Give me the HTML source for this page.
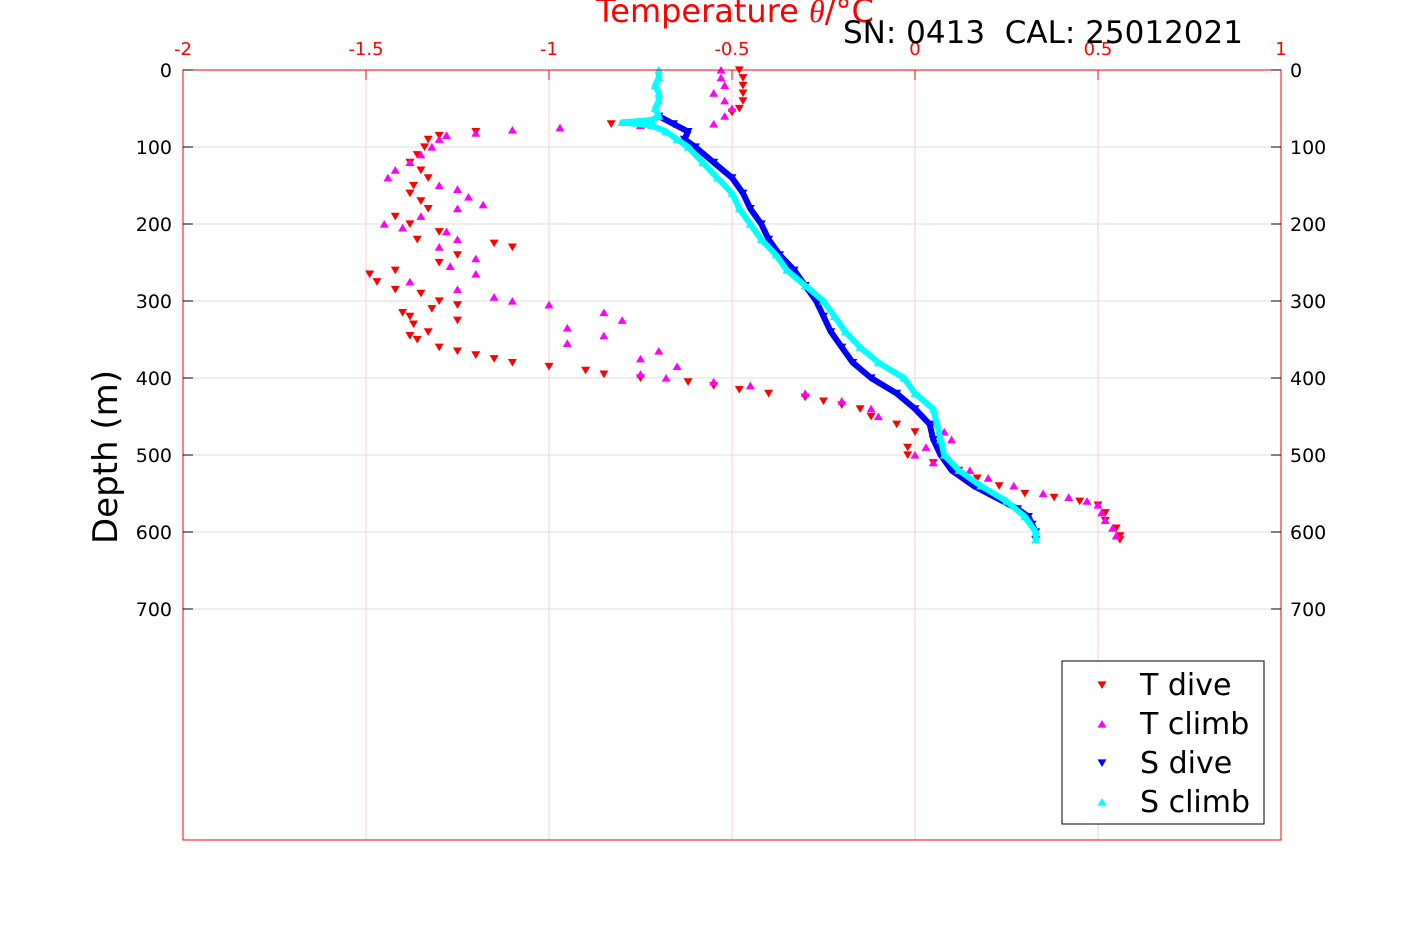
<!DOCTYPE html>
<html><head><meta charset="utf-8"><style>
html,body{margin:0;padding:0;background:#fff;}
svg{display:block;font-family:"DejaVu Sans","Liberation Sans",sans-serif;}
</style></head><body>
<svg id="chart" width="1417" height="945" viewBox="0 0 1417 945">
<rect x="0" y="0" width="1417" height="945" fill="#fff"/>
<g id="grid"></g>
<g id="series"></g>
<rect x="183" y="70" width="1098" height="770" fill="none" stroke="#ff0000" stroke-width="1"/>
<g id="axes"></g>
<text x="735" y="22" text-anchor="middle" font-size="32" fill="#ff0000">Temperature <tspan font-style="italic" font-family="Liberation Serif,serif">θ</tspan>/°C</text>
<text x="843" y="43" font-size="31" fill="#000" xml:space="preserve">SN: 0413  CAL: 25012021</text>
<text transform="translate(117,457) rotate(-90)" text-anchor="middle" font-size="34" fill="#000">Depth (m)</text>
<g>
<rect x="1062" y="661" width="202" height="163" fill="#fff" stroke="#000" stroke-width="1"/>
<g id="legend-items"></g>
</g>
</svg>
<script>
const xTicks=[-2,-1.5,-1,-0.5,0,0.5,1];
const xTickLabels=["-2","-1.5","-1","-0.5","0","0.5","1"];
const yTicks=[0,100,200,300,400,500,600,700];
const tDiveDepth=[0,10,20,30,40,50,55,70,80,85,90,100,110,120,130,140,150,160,170,180,190,200,210,220,225,230,240,250,260,265,275,285,290,300,305,310,315,320,325,330,340,345,350,360,365,370,375,380,385,390,395,400,405,410,415,420,425,430,435,440,450,460,470,480,490,500,510,520,530,540,550,555,560,565,575,585,595,605,610];
const tDiveTemp=[-0.48,-0.47,-0.47,-0.47,-0.47,-0.48,-0.5,-0.83,-1.2,-1.3,-1.33,-1.34,-1.36,-1.38,-1.35,-1.33,-1.37,-1.38,-1.35,-1.33,-1.42,-1.38,-1.3,-1.36,-1.15,-1.1,-1.25,-1.3,-1.42,-1.49,-1.47,-1.42,-1.35,-1.3,-1.25,-1.32,-1.4,-1.38,-1.25,-1.37,-1.33,-1.38,-1.36,-1.3,-1.25,-1.2,-1.15,-1.1,-1.0,-0.9,-0.85,-0.75,-0.62,-0.55,-0.48,-0.4,-0.3,-0.25,-0.2,-0.15,-0.12,-0.05,0.0,0.05,-0.02,-0.02,0.05,0.12,0.17,0.23,0.3,0.38,0.45,0.5,0.52,0.52,0.55,0.56,0.56];
const tClimbDepth=[0,10,20,30,40,50,60,70,72,75,78,82,85,90,100,110,120,130,140,150,155,165,175,180,190,200,205,210,220,230,245,255,265,275,285,295,300,305,315,325,335,345,355,365,375,385,395,400,405,410,420,430,440,450,460,470,480,490,500,510,520,530,540,550,555,560,565,575,585,595,605];
const tClimbTemp=[-0.53,-0.53,-0.52,-0.55,-0.52,-0.5,-0.52,-0.55,-0.75,-0.97,-1.1,-1.2,-1.28,-1.3,-1.32,-1.35,-1.38,-1.42,-1.44,-1.3,-1.25,-1.22,-1.18,-1.25,-1.35,-1.45,-1.4,-1.28,-1.25,-1.3,-1.2,-1.27,-1.2,-1.38,-1.25,-1.15,-1.1,-1.0,-0.85,-0.8,-0.95,-0.85,-0.95,-0.7,-0.75,-0.65,-0.75,-0.68,-0.55,-0.45,-0.3,-0.2,-0.12,-0.1,0.05,0.08,0.1,0.03,0.0,0.05,0.15,0.2,0.27,0.35,0.42,0.47,0.5,0.51,0.52,0.54,0.55];
const sDiveDepth=[60,70,80,90,100,120,140,160,180,200,220,240,260,280,300,320,340,360,380,400,420,440,460,480,500,520,540,560,570,580,590,600,610];
const sDiveTemp=[-0.7,-0.66,-0.62,-0.63,-0.6,-0.55,-0.5,-0.47,-0.45,-0.42,-0.4,-0.37,-0.33,-0.3,-0.27,-0.25,-0.23,-0.2,-0.17,-0.12,-0.05,0.0,0.04,0.05,0.07,0.1,0.16,0.24,0.28,0.31,0.32,0.33,0.33];
const sClimbDepth=[0,10,20,30,40,50,60,65,68,72,80,90,100,120,140,160,180,200,220,240,260,280,300,320,340,360,380,400,420,440,460,480,500,520,540,560,580,600,610];
const sClimbTemp=[-0.7,-0.7,-0.71,-0.7,-0.7,-0.71,-0.7,-0.72,-0.8,-0.72,-0.68,-0.65,-0.62,-0.58,-0.54,-0.5,-0.48,-0.45,-0.42,-0.38,-0.35,-0.3,-0.25,-0.22,-0.19,-0.15,-0.1,-0.03,0.0,0.05,0.06,0.07,0.08,0.12,0.18,0.25,0.3,0.33,0.33];
const seriesNames=["T dive","T climb","S dive","S climb"];
const seriesColors=["#ff0000","#ff00ff","#0000ff","#00ffff"];

const NS="http://www.w3.org/2000/svg";
const X0=183,X1=1281,Y0=70,Y1=840;
function xs(v){return X0+(v+2)/3*(X1-X0);}
function ys(d){return Y0+d/1000*(Y1-Y0);}
function mk(tag,attrs,parent){const e=document.createElementNS(NS,tag);for(const k in attrs)e.setAttribute(k,attrs[k]);parent.appendChild(e);return e;}
const grid=document.getElementById('grid'),axes=document.getElementById('axes'),ser=document.getElementById('series');
xTicks.forEach((t,i)=>{
  const x=xs(t);
  if(i>0&&i<xTicks.length-1){const l=mk('line',{x1:x,x2:x,y1:Y0,y2:Y1,stroke:'#ffcccc','stroke-width':1},grid);
  
  }
  const tk=mk('line',{x1:x,x2:x,y1:Y0,y2:Y0+10,stroke:'#ff0000'},axes);
  
  
  const tx=mk('text',{x:x,y:55,'text-anchor':'middle','font-size':18,fill:'#ff0000'},axes);
  tx.textContent=xTickLabels[i];
  
  
});
yTicks.forEach(t=>{
  const y=ys(t);
  if(t>0){const l=mk('line',{x1:X0,x2:X1,y1:y,y2:y,stroke:'#dddddd','stroke-width':1},grid);
  
  }
  const a=mk('line',{x1:X0,x2:X0+10,y1:y,y2:y,stroke:'#000'},axes);
  
  
  const b=mk('line',{x1:X1-10,x2:X1,y1:y,y2:y,stroke:'#000'},axes);
  
  
  const l1=mk('text',{x:172,y:y+7,'text-anchor':'end','font-size':19,fill:'#000'},axes);
  l1.textContent=String(t);
  
  
  const l2=mk('text',{x:1290,y:y+7,'text-anchor':'start','font-size':19,fill:'#000'},axes);
  l2.textContent=String(t);
  
  
});
function tri(cx,cy,down,color,parent,name){
  const s=4.5;
  const pts=down?`${cx-s},${cy-s*0.8} ${cx+s},${cy-s*0.8} ${cx},${cy+s*0.9}`:`${cx-s},${cy+s*0.8} ${cx+s},${cy+s*0.8} ${cx},${cy-s*0.9}`;
  const p=mk('polygon',{points:pts,fill:color},parent);
  
  
}
const all=[[tDiveDepth,tDiveTemp,true],[tClimbDepth,tClimbTemp,false],[sDiveDepth,sDiveTemp,true],[sClimbDepth,sClimbTemp,false]];
all.forEach((s,si)=>{
  const g=mk('g',{},ser);
  
  
  if(si>=2){
    const pl=mk('polyline',{points:s[0].map((d,i)=>xs(s[1][i])+','+ys(d)).join(' '),fill:'none',stroke:seriesColors[si],'stroke-width':6,'stroke-linejoin':'round'},g);
    
    
  }
  s[0].forEach((d,i)=>tri(xs(s[1][i]),ys(d),s[2],seriesColors[si],g,'data-point'));
});
const li=document.getElementById('legend-items');
seriesNames.forEach((n,i)=>{
  const y=685+i*39;
  tri(1102,y,i%2===0,seriesColors[i],li,'legend-marker');
  const t=mk('text',{x:1140,y:y+10,'font-size':30,fill:'#000'},li);
  t.textContent=n;
  
  
});
</script>
</body></html>
